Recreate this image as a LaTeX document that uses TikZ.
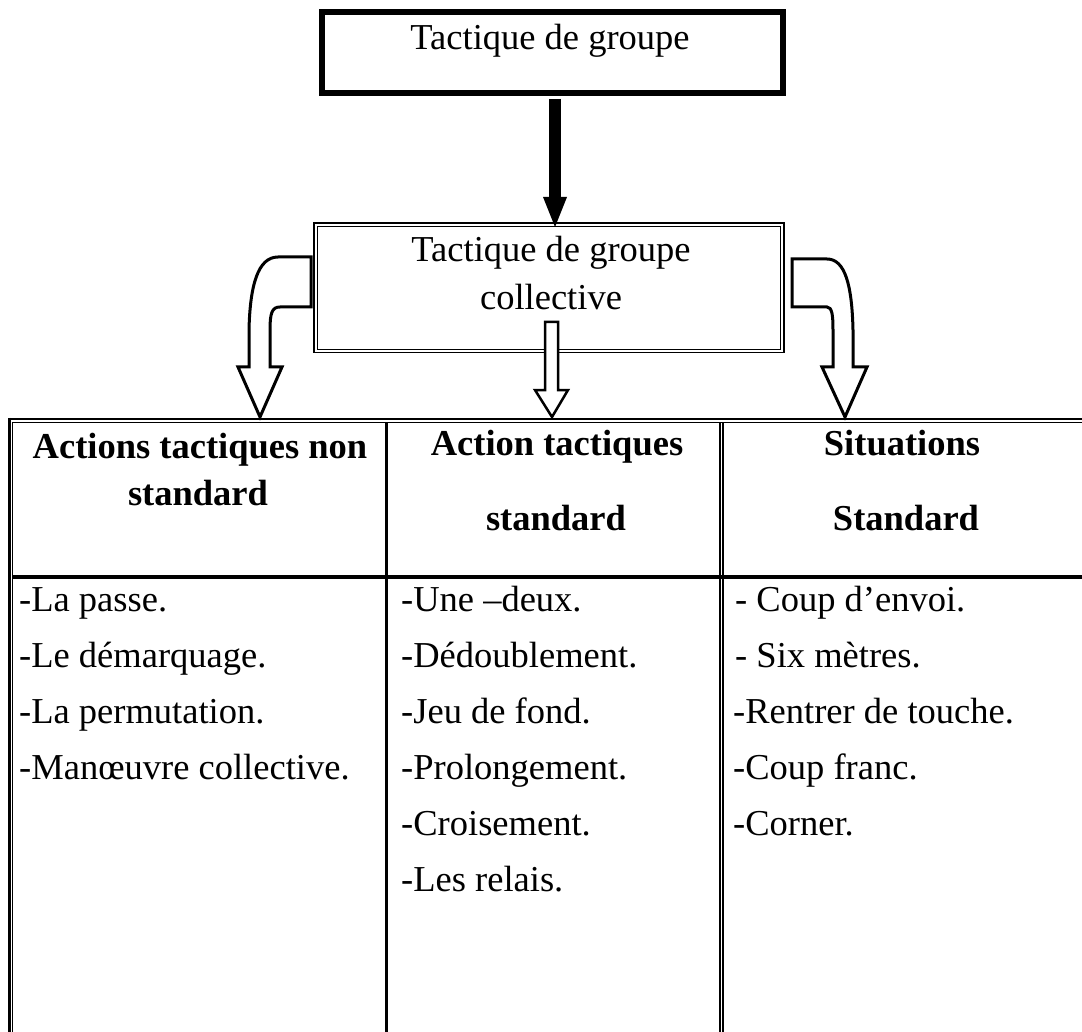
\documentclass[tikz,border=0pt]{standalone}
\usepackage{fontspec}
\setmainfont{Liberation Serif}
\usetikzlibrary{arrows.meta,calc}
\begin{document}
\begin{tikzpicture}[x=1pt,y=-1pt,
  txt/.style={font=\fontsize{36.5}{42}\selectfont, inner sep=0pt, anchor=base},
  item/.style={font=\fontsize{36.5}{42}\selectfont, inner sep=0pt, anchor=base west},
  hdr/.style={font=\fontsize{36.5}{42}\selectfont\bfseries, inner sep=0pt, anchor=base},
  blockarrow/.style={draw, line width=3pt, fill=white, line join=miter},
  rule/.style={line width=#1, line cap=butt}]
\useasboundingbox (0,0) rectangle (1082,1032);

% top box
\node[draw, line width=6pt, minimum width=461pt, minimum height=81pt, inner sep=0pt, outer sep=0pt] (top) at (552.5,52.5) {};
\node[txt] (toptxt) at (550,50) {Tactique de groupe};

% middle box (double border)
\node[draw, line width=1.8pt, minimum width=470pt, minimum height=129.5pt, inner sep=0pt, outer sep=0pt] (mid) at (549,287.75) {};
\draw[line width=1pt] ([xshift=3.3pt,yshift=-3.3pt]mid.north west) rectangle ([xshift=-3.3pt,yshift=3.3pt]mid.south east);
\node[txt] (midtxt1) at (551,262) {Tactique de groupe};
\node[txt] (midtxt2) at (551,310) {collective};

% thick arrow
\draw[line width=12pt, -{Triangle[width=24pt,length=30pt,line width=0pt]}] ($(top.south)+(2.5,6)$) -- ($(mid.north)+(6,4)$);

% table
\coordinate (tl) at (9.5,418.8);
\draw[rule=2pt] (tl) -- (1082,418.8);
\draw[rule=1pt] (12.2,422.3) -- (1082,422.3);
\draw[rule=2.3pt] (9.5,417.8) -- (9.5,1032);
\draw[rule=1pt] (12.2,422.3) -- (12.2,1032);
\draw[rule=4pt] (12.2,577) -- (1082,577);
\draw[rule=3pt] (386.5,422.3) -- (386.5,1032);
\draw[rule=1.3pt] (720,422.3) -- (720,1032);
\draw[rule=2.3pt] (723.2,422.3) -- (723.2,1032);

% block arrows
\draw[blockarrow] (311,257) -- (278,257) .. controls (258,257) and (250,285) .. (249,330) -- (249,367) -- (238,367) -- (260,417) -- (282,367) -- (270,367) -- (270,330) .. controls (270,313) and (272,307) .. (280,307) -- (311,307) -- cycle;
\draw[blockarrow] (792,259) -- (827,259) .. controls (845,259) and (852,285) .. (853,330) -- (853,367) -- (867,367) -- (845,417) -- (822,367) -- (833,367) -- (833,330) .. controls (833,315) and (832,307) .. (827,307) -- (792,307) -- cycle;
\draw[blockarrow, line width=2.5pt] (545,322) -- (545,390) -- (535,390) -- (552,417) -- (568,390) -- (558,390) -- (558,322) -- cycle;

% headers
\node[hdr] (h1a) at (200,458) {Actions tactiques non};
\node[hdr] (h1b) at (198,505) {standard};
\node[hdr] (h2a) at (557,455) {Action tactiques};
\node[hdr] (h2b) at (556,530) {standard};
\node[hdr] (h3a) at (902,455) {Situations};
\node[hdr] (h3b) at (906,530) {Standard};

% column 1
\node[item] (a1) at (19,611) {-La passe.};
\node[item] (a2) at (19,667) {-Le démarquage.};
\node[item] (a3) at (19,723) {-La permutation.};
\node[item] (a4) at (19,779) {-Manœuvre collective.};
% column 2
\node[item] (b1) at (401,611) {-Une –deux.};
\node[item] (b2) at (401,667) {-Dédoublement.};
\node[item] (b3) at (401,723) {-Jeu de fond.};
\node[item] (b4) at (401,779) {-Prolongement.};
\node[item] (b5) at (401,835) {-Croisement.};
\node[item] (b6) at (401,891) {-Les relais.};
% column 3
\node[item] (c1) at (735,611) {- Coup d’envoi.};
\node[item] (c2) at (735,667) {- Six mètres.};
\node[item] (c3) at (733,723) {-Rentrer de touche.};
\node[item] (c4) at (733,779) {-Coup franc.};
\node[item] (c5) at (733,835) {-Corner.};
\end{tikzpicture}
\end{document}
